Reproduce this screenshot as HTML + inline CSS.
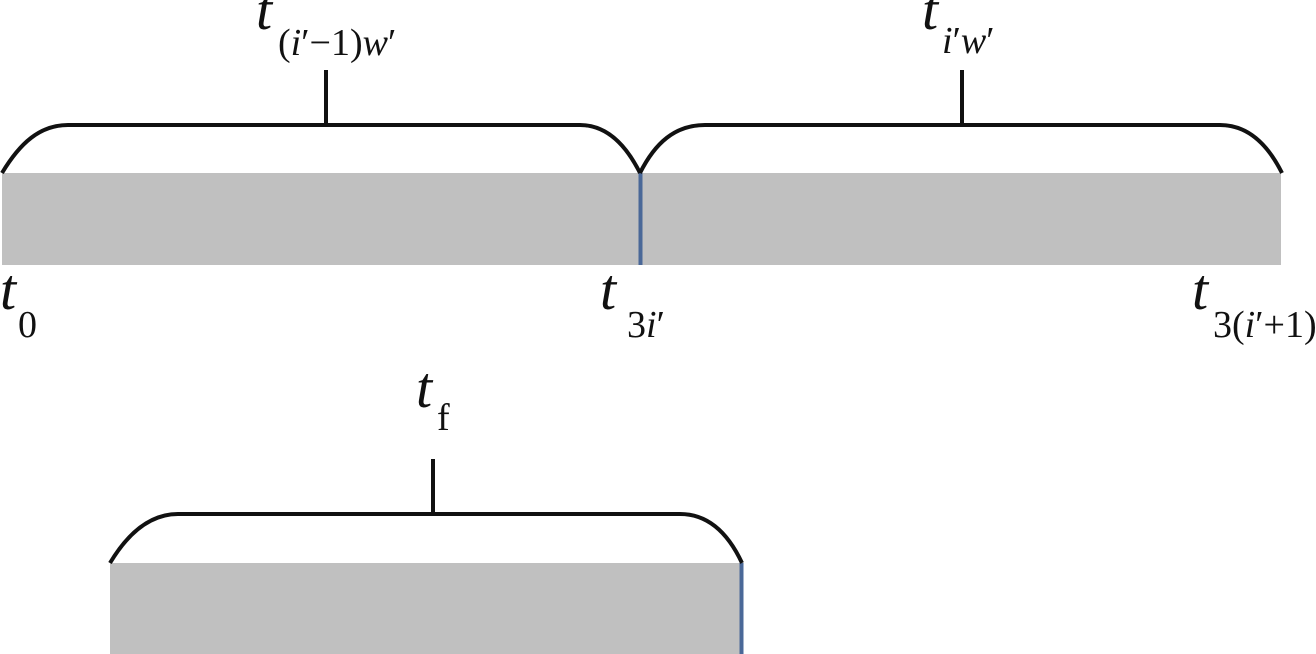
<!DOCTYPE html>
<html><head><style>
html,body{margin:0;padding:0;background:#fff;}
svg{display:block;position:absolute;left:0;top:0;}
.l{position:absolute;font-family:"Liberation Serif","Times New Roman","DejaVu Serif",serif;color:#111;line-height:1;white-space:nowrap;}
.t{font-style:italic;font-size:58px;}
.s{font-size:38px;}
i{font-style:italic;}
</style></head><body>
<svg width="1316" height="654" viewBox="0 0 1316 654" xmlns="http://www.w3.org/2000/svg">
<rect x="2" y="173" width="1279" height="92" fill="#c0c0c0"/>
<rect x="638.5" y="173" width="4" height="92" fill="#4a6898"/>
<rect x="110" y="563" width="632" height="91" fill="#c0c0c0"/>
<rect x="739.5" y="563" width="4" height="91" fill="#4a6898"/>
<g fill="none" stroke="#111" stroke-width="4">
<path d="M2,173 C20,143 40,125 68,125 L580,125 C605,125 625,143 640,173"/>
<path d="M640,173 C655,143 675,125 705,125 L1220,125 C1248,125 1268,145 1282,173"/>
<path d="M326,70 V125"/>
<path d="M962,70 V125"/>
<path d="M110,563 C128,533 150,514 178,514 L680,514 C708,514 728,533 742,563"/>
<path d="M433,459 V514"/>
</g>
</svg>
<div class="l t" style="left:256px;top:-19px">t</div>
<div class="l s" style="left:278px;top:24px">(<i>i</i>′−1)<i>w</i>′</div>
<div class="l t" style="left:922px;top:-19px">t</div>
<div class="l s" style="left:942px;top:22px"><i>i</i>′<i>w</i>′</div>
<div class="l t" style="left:0px;top:261px">t</div>
<div class="l s" style="left:18px;top:306px">0</div>
<div class="l t" style="left:600px;top:261px">t</div>
<div class="l s" style="left:627px;top:306px">3<i>i</i>′</div>
<div class="l t" style="left:1192px;top:261px">t</div>
<div class="l s" style="left:1213px;top:306px">3(<i>i</i>′+1)</div>
<div class="l t" style="left:416px;top:359px">t</div>
<div class="l s" style="left:437px;top:399px">f</div>
</body></html>
